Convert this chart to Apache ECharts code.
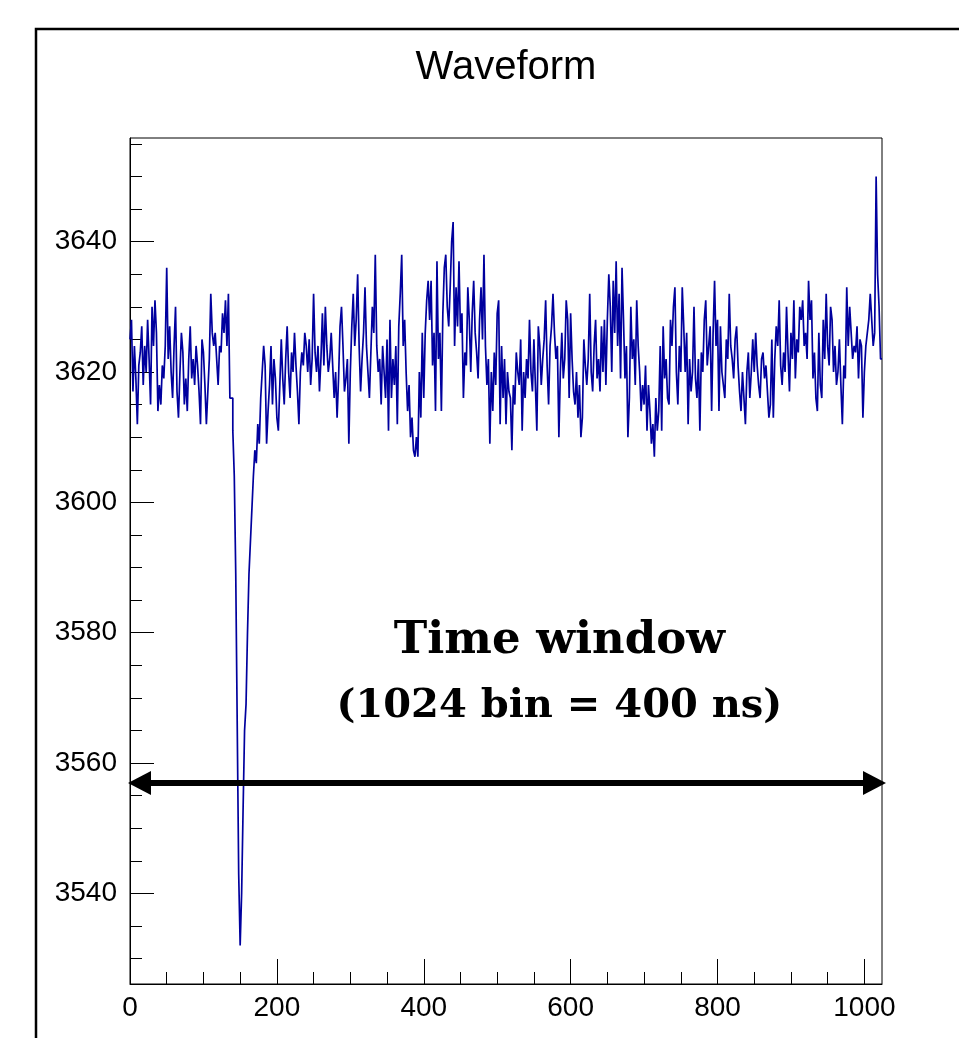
<!DOCTYPE html>
<html>
<head>
<meta charset="utf-8">
<script src="https://cdn.jsdelivr.net/npm/echarts@6/dist/echarts.min.js"></script>
<style>
html,body{margin:0;padding:0;background:#fff;}
#chart{width:959px;height:1038px;}
</style>
</head>
<body>
<div id="chart"></div>
<script>
// ---- data (each value covers 2 sampling bins) ----
const binWidth = 2;
const adcCounts = [
3625,3628,3617,3624,3619,3612,3621,3623,3627,3618,
3624,3620,3628,3622,3615,3630,3624,3631,3626,3614,
3618,3615,3621,3619,3624,3636,3622,3627,3620,3616,
3624,3630,3617,3613,3620,3626,3623,3615,3619,3614,
3622,3627,3619,3622,3618,3624,3621,3617,3612,3625,
3623,3618,3612,3617,3622,3632,3626,3624,3626,3622,
3618,3624,3623,3629,3626,3631,3624,3632,3616,3616,
3611,3604,3589,3566,3543,3532,3540,3553,3565,3569,
3580,3589,3594,3599,3604,3608,3606,3612,3609,3616,
3620,3624,3621,3609,3614,3618,3624,3615,3622,3619,
3613,3611,3618,3625,3619,3615,3622,3627,3620,3616,
3623,3620,3626,3621,3617,3612,3620,3623,3621,3626,
3624,3620,3625,3618,3622,3632,3623,3620,3624,3617,
3622,3629,3621,3630,3624,3620,3622,3626,3621,3616,
3620,3613,3619,3627,3630,3624,3617,3619,3622,3609,
3620,3627,3632,3624,3628,3635,3624,3617,3622,3626,
3633,3624,3620,3616,3623,3630,3626,3638,3624,3620,
3622,3615,3624,3620,3616,3625,3611,3628,3616,3622,
3618,3624,3612,3627,3632,3638,3624,3628,3620,3614,
3618,3610,3613,3608,3607,3610,3607,3620,3613,3626,
3616,3626,3631,3634,3628,3634,3621,3626,3614,3637,
3622,3626,3614,3629,3636,3638,3630,3627,3633,3640,
3643,3624,3633,3627,3637,3626,3629,3616,3623,3621,
3633,3628,3620,3629,3634,3626,3623,3619,3628,3633,
3625,3638,3624,3618,3622,3609,3620,3614,3623,3618,
3629,3631,3612,3624,3616,
3622,3612,3620,3617,3616,3608,3618,3615,3623,3620,
3618,3625,3611,3620,3616,3622,3619,3628,3620,3617,
3625,3618,3611,3627,3624,3618,3622,3625,3631,3621,
3615,3624,3627,3632,3626,3622,3624,3610,3620,3626,
3619,3622,3631,3628,3616,3629,3622,3617,3615,3620,
3613,3618,3610,3613,3625,3621,3618,3622,3632,3620,
3617,3624,3628,3619,3622,3617,3627,3620,3628,3618,
3628,3635,3630,3620,3634,3626,3637,3624,3632,3619,
3636,3628,3619,3624,3610,
3616,3630,3622,3625,3618,3631,3624,3620,3614,3618,
3615,3621,3611,3618,3614,3609,3612,3607,3616,3611,
3614,3624,3611,3627,3619,3622,3616,3615,3628,3624,
3630,3633,3620,3615,3624,3620,3633,3627,3620,3626,
3612,3622,3617,3620,3630,3619,3616,3622,3611,3623,
3620,3628,3631,3621,3624,3627,3614,3626,3634,3624,
3628,3614,3627,3620,3618,3616,3625,3622,3632,3624,
3622,3619,3625,3627,3621,3617,3614,3620,3616,3612,
3620,3623,3616,3620,3625,
3620,3626,3621,3618,3616,3622,3623,3619,3621,3617,
3613,3615,3625,3613,3622,3627,3624,3631,3621,3618,
3623,3620,3630,3623,3617,3626,3622,3631,3619,3625,
3623,3630,3628,3631,3624,3626,3622,3634,3628,3631,
3619,3623,3616,3614,3626,3618,3616,3628,3622,3632,
3624,3621,3630,3628,3620,3624,3618,3620,3625,3618,
3612,3621,3619,3633,3624,3630,3626,3622,3624,3623,
3627,3619,3625,3624,3613,3620,3624,3626,3628,3632,
3628,3624,3626,3650,3635,3630,3622
];
const xRange = [0, 1024];
const yRange = [3526.1, 3655.9];
const xMajorTicks = [0, 200, 400, 600, 800, 1000];
const xMinorTicks = [50,100,150,250,300,350,450,500,550,650,700,750,850,900,950];
const yMajorTicks = [3540, 3560, 3580, 3600, 3620, 3640];
const yMinorTicks = [3530,3535,3545,3550,3555,3565,3570,3575,3585,3590,3595,3605,3610,3615,3625,3630,3635,3645,3650,3655];
const titleText = 'Waveform';
const noteLines = ['Time window', '(1024 bin = 400 ns)'];
const arrowSpan = [0, 1024];
const arrowLevel = 3557;

// ---- build histogram polyline (left bin edges, step drawn at bin end) ----
const histData = adcCounts.map((v, i) => [i * binWidth, v]);
histData.push([adcCounts.length * binWidth, adcCounts[adcCounts.length - 1]]);

const chart = echarts.init(document.getElementById('chart'), null, {renderer: 'canvas'});
const axisFont = {fontFamily: 'Liberation Sans', fontSize: 28, color: '#000',
                  formatter: v => String(v)};

function makeX(major) {
  return {
    type: 'value', min: xRange[0], max: xRange[1], position: 'bottom',
    axisLine: {show: major, onZero: false, lineStyle: {color: '#000', width: 1}},
    axisTick: {show: true, inside: true, length: major ? 25 : 12,
      customValues: major ? xMajorTicks : xMinorTicks, lineStyle: {color: '#000', width: 1}},
    axisLabel: major ? Object.assign({show: true, customValues: xMajorTicks, margin: 10,
      showMinLabel: true, showMaxLabel: true}, axisFont) : {show: false},
    splitLine: {show: false}
  };
}
function makeY(major) {
  return {
    type: 'value', min: yRange[0], max: yRange[1], position: 'left',
    axisLine: {show: major, onZero: false, lineStyle: {color: '#000', width: 1}},
    axisTick: {show: true, inside: true, length: major ? 24 : 12,
      customValues: major ? yMajorTicks : yMinorTicks, lineStyle: {color: '#000', width: 1}},
    axisLabel: major ? Object.assign({show: true, customValues: yMajorTicks, margin: 13,
      showMinLabel: true, showMaxLabel: true}, axisFont) : {show: false},
    splitLine: {show: false}
  };
}

chart.setOption({
  animation: false,
  backgroundColor: '#fff',
  grid: {left: 130, top: 138, right: 77, bottom: 54, show: true,
         borderColor: '#000', borderWidth: 1, backgroundColor: 'transparent'},
  xAxis: [makeX(true), makeX(false)],
  yAxis: [makeY(true), makeY(false)],
  series: [{
    type: 'line', xAxisIndex: 0, yAxisIndex: 0, data: histData, step: 'end',
    symbol: 'none', showSymbol: false, silent: true, clip: true,
    lineStyle: {color: '#00009e', width: 1.7}
  }]
});

const pL = chart.convertToPixel({xAxisIndex: 0, yAxisIndex: 0}, [arrowSpan[0], arrowLevel]);
const pR = chart.convertToPixel({xAxisIndex: 0, yAxisIndex: 0}, [arrowSpan[1], arrowLevel]);
const gl = chart.getModel().getComponent('grid').coordinateSystem.getRect();
const ay = Math.round(pL[1]);
const leftTip = pL[0] - 2, rightTip = pR[0] + 4;
const headLen = 23, headHalf = 12;
const noteX = gl.x + gl.width * 0.571;

chart.setOption({
  graphic: [
    {type: 'rect', z: 100, silent: true, shape: {x: 36, y: 29, width: 1000, height: 1100},
     style: {fill: 'none', stroke: '#000', lineWidth: 2.5}},
    {type: 'text', z: 100, silent: true, x: gl.x + gl.width / 2, y: 68,
     style: {text: titleText, font: '40px "Liberation Sans"', fill: '#000',
             textAlign: 'center', textVerticalAlign: 'middle'}},
    {type: 'line', z: 100, silent: true,
     shape: {x1: leftTip + headLen - 2, y1: ay, x2: rightTip - headLen + 2, y2: ay},
     style: {stroke: '#000', lineWidth: 6}},
    {type: 'polygon', z: 100, silent: true,
     shape: {points: [[leftTip, ay], [leftTip + headLen, ay - headHalf], [leftTip + headLen, ay + headHalf]]},
     style: {fill: '#000'}},
    {type: 'polygon', z: 100, silent: true,
     shape: {points: [[rightTip, ay], [rightTip - headLen, ay - headHalf], [rightTip - headLen, ay + headHalf]]},
     style: {fill: '#000'}},
    {type: 'text', z: 100, silent: true, x: noteX, y: 641,
     style: {text: noteLines[0], font: 'bold 45px "DejaVu Serif"', fill: '#000',
             textAlign: 'center', textVerticalAlign: 'middle'}},
    {type: 'text', z: 100, silent: true, x: noteX, y: 707,
     style: {text: noteLines[1], font: 'bold 40px "DejaVu Serif"', fill: '#000',
             textAlign: 'center', textVerticalAlign: 'middle'}}
  ]
});
</script>
</body>
</html>
